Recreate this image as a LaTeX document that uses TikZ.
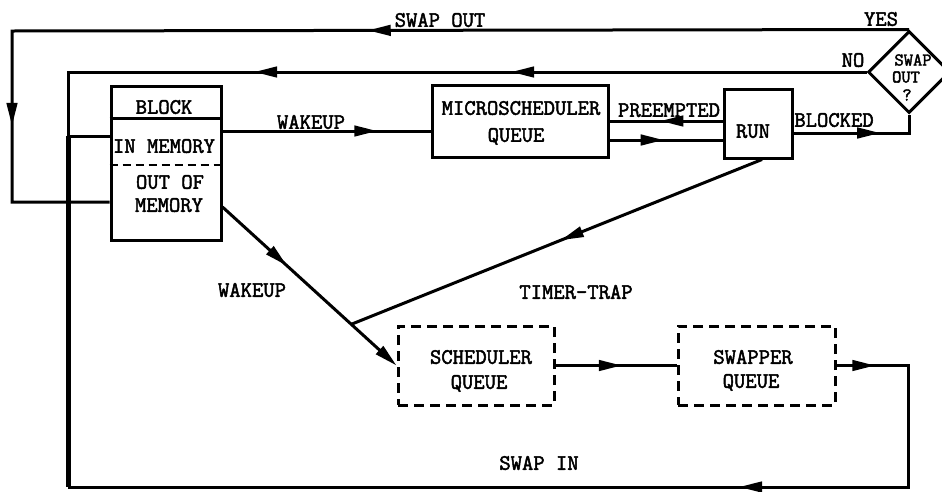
\documentclass[tikz,border=0pt]{standalone}
\usepackage{fontspec}
\newfontfamily\twb{Latin Modern Mono}[FakeBold=2.2]
\usetikzlibrary{arrows.meta,shapes.geometric,decorations.markings}
\begin{document}
\begin{tikzpicture}[x=1pt,y=-1pt,
  >={Triangle[length=23pt,width=10.5pt]},
  ln/.style={line width=3pt, line join=miter},
  thk/.style={line width=5pt},
  am/.style={postaction={decorate,decoration={markings,mark=at position #1 with {\arrow{>}}}}},
  sbox/.style={draw, line width=3pt, inner sep=0pt},
  dbox/.style={draw, line width=3pt, inner sep=0pt, dash pattern=on 10pt off 6pt},
  lbl/.style={inner sep=0pt, text height=13.5pt, text depth=0pt, font=\fontsize{22}{24}\twb},
  dlbl/.style={inner sep=0pt, text height=11pt, text depth=0pt, font=\fontsize{18}{19}\twb}]
\useasboundingbox (0,0) rectangle (942,491);
\clip (0,0) rectangle (942,491);
\fill[white] (0,0) rectangle (942,491);

% boxes
\node[sbox, minimum width=110pt, minimum height=154pt] (block) at (166,163) {};
\node[sbox, minimum width=176pt, minimum height=72pt] (micro) at (520,121) {};
\node[sbox, minimum width=68pt, minimum height=69pt] (run) at (758,123.5) {};
\node[dbox, minimum width=156pt, minimum height=79pt] (sched) at (476,365.5) {};
\node[dbox, minimum width=157pt, minimum height=79pt] (swap) at (756.5,365.5) {};
\node[draw, line width=3pt, shape=diamond, aspect=1, inner sep=0pt, minimum width=82pt, minimum height=82pt] (dia) at (909,72) {};

% block dividers
\coordinate (d1) at (0,118);
\coordinate (d2) at (0,165);
\draw[ln] (block.west |- d1) -- (block.east |- d1);
\draw[line width=2.4pt, dash pattern=on 8pt off 5pt] (block.west |- d2) -- (block.east |- d2);

% texts
\node[lbl] (tblock) at (164,107) {BLOCK};
\node[lbl] (tinm) at (164,146) {IN MEMORY};
\node[lbl] (toutof) at (170,182) {OUT OF};
\node[lbl] (tmem) at (169,205) {MEMORY};
\node[lbl] (tmicro) at (521,108) {MICROSCHEDULER};
\node[lbl] (tmq) at (516,135) {QUEUE};
\node[lbl] (trun) at (753,131) {RUN};
\node[lbl] (tsch) at (481,357) {SCHEDULER};
\node[lbl] (tschq) at (479,382) {QUEUE};
\node[lbl] (tswp) at (753,357) {SWAPPER};
\node[lbl] (tswpq) at (751,381) {QUEUE};
\node[dlbl] (tdswap) at (913,60) {SWAP};
\node[dlbl] (tdout) at (906,77) {OUT};
\node[dlbl] (tdq) at (907,95) {?};
\node[lbl] (lswapout) at (440,20) {SWAP OUT};
\node[lbl] (lyes) at (881,19) {YES};
\node[lbl] (lno) at (853,60) {NO};
\node[lbl] (lwake1) at (311,122) {WAKEUP};
\node[lbl] (lpre) at (669,110) {PREEMPTED};
\node[lbl] (lblk) at (834,120) {BLOCKED};
\node[lbl] (lwake2) at (252,290) {WAKEUP};
\node[lbl] (ltimer) at (576,292) {TIMER-TRAP};
\node[lbl] (lswapin) at (539,463) {SWAP IN};

% coordinates
\coordinate (tl) at (12,31);
\coordinate (tlb) at (12,202);
\coordinate (nl) at (68,72);
\coordinate (im) at (68,136);
\coordinate (bl) at (68,487);
\coordinate (br) at (908,487);
\coordinate (sr) at (908,365.5);
\coordinate (w1) at ([yshift=32pt]block.east);
\coordinate (wst) at ([yshift=-44pt]block.east);
\coordinate (p1) at ([yshift=2.5pt]run.west);
\coordinate (p2) at ([yshift=-16.5pt]run.west);
\coordinate (b1) at ([yshift=-9.5pt]run.east);
\path (wst) -- (sched.west) coordinate[pos=0.74] (jn);

% connectors
\draw[ln, am=0.4644, am=0.851] (dia.north) -- (tl) -- (tlb) -- (tlb -| block.west);
\draw[ln, am=0.412, am=0.71] (dia.west) -- (nl) -- (im);
\draw[ln] (im) -- (im -| block.west);
\draw[ln, am=0.0375, am=0.3504] (swap.east) -- (sr) -- (br) -- (bl);
\draw[thk] (im) -- (bl);
\draw[ln, am=0.744] (w1) -- (w1 -| micro.west);
\draw[ln, am=0.55] (p1) -- (p1 -| micro.east);
\draw[ln, am=0.48] (p2 -| micro.east) -- (p2);
\draw[ln, am=0.647] (b1) -- (b1 -| dia.south) -- (dia.south);
\draw[ln, am=0.37, ->] (wst) -- (sched.west);
\draw[ln, am=0.49] ([xshift=4pt]run.south) -- (jn);
\draw[ln, am=0.548] (sched.east) -- (swap.west);
\end{tikzpicture}
\end{document}
